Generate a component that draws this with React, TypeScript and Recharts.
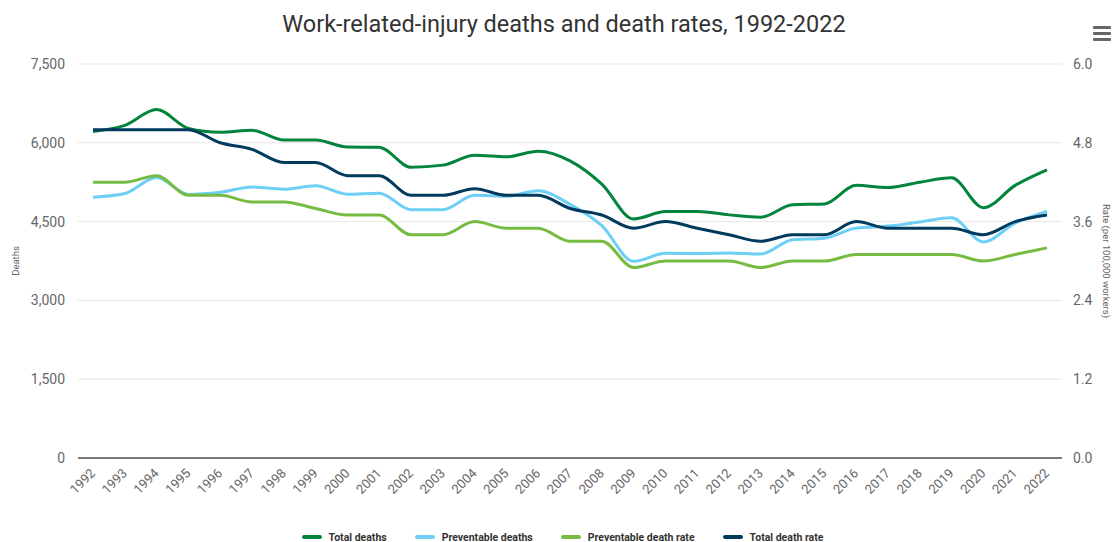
import React from 'react';
import { LineChart, Line, XAxis, YAxis, CartesianGrid } from 'recharts';

const years = [
  1992, 1993, 1994, 1995, 1996, 1997, 1998, 1999, 2000, 2001, 2002, 2003, 2004, 2005, 2006, 2007,
  2008, 2009, 2010, 2011, 2012, 2013, 2014, 2015, 2016, 2017, 2018, 2019, 2020, 2021, 2022,
];

const totalDeaths = [
  6217, 6331, 6632, 6275, 6202, 6238, 6055, 6054, 5920, 5915, 5534, 5575, 5764, 5734, 5840, 5657,
  5214, 4551, 4690, 4693, 4628, 4585, 4821, 4836, 5190, 5147, 5250, 5333, 4764, 5190, 5486,
];

const preventableDeaths = [
  4965, 5035, 5338, 5018, 5058, 5160, 5117, 5184, 5022, 5042, 4726, 4725, 5000, 4984, 5088, 4829,
  4423, 3744, 3896, 3891, 3903, 3883, 4154, 4185, 4376, 4414, 4493, 4572, 4113, 4472, 4695,
];

const preventableRate = [
  4.2, 4.2, 4.3, 4.0, 4.0, 3.9, 3.9, 3.8, 3.7, 3.7, 3.4, 3.4, 3.6, 3.5, 3.5, 3.3,
  3.3, 2.9, 3.0, 3.0, 3.0, 2.9, 3.0, 3.0, 3.1, 3.1, 3.1, 3.1, 3.0, 3.1, 3.2,
];

const totalRate = [
  5.0, 5.0, 5.0, 5.0, 4.8, 4.7, 4.5, 4.5, 4.3, 4.3, 4.0, 4.0, 4.1, 4.0, 4.0, 3.8,
  3.7, 3.5, 3.6, 3.5, 3.4, 3.3, 3.4, 3.4, 3.6, 3.5, 3.5, 3.5, 3.4, 3.6, 3.7,
];

const deathTicks = [0, 1500, 3000, 4500, 6000, 7500];
const rateTicks = [0, 1.2, 2.4, 3.6, 4.8, 6.0];

// legend order is also draw order
const series = [
  { key: 'totalDeaths', name: 'Total deaths', axis: 'deaths', color: '#02843d' },
  { key: 'preventableDeaths', name: 'Preventable deaths', axis: 'deaths', color: '#6dcff6' },
  { key: 'preventableRate', name: 'Preventable death rate', axis: 'rate', color: '#76bc43' },
  { key: 'totalRate', name: 'Total death rate', axis: 'rate', color: '#003a5d' },
];

const data = years.map((year, i) => ({
  year: String(year),
  totalDeaths: totalDeaths[i],
  preventableDeaths: preventableDeaths[i],
  preventableRate: preventableRate[i],
  totalRate: totalRate[i],
}));

const FONT = 'Roboto, "Noto Sans", sans-serif';

const YearTick = (props: any) => {
  const { x, y, payload } = props;
  return (
    <g transform={`translate(${x + 3},${y + 16})`}>
      <text x={0} y={0} textAnchor="end" transform="rotate(-45)" fontSize={13} fill="#666" fontFamily={FONT}>
        {payload.value}
      </text>
    </g>
  );
};

const leftTitle = (props: any) => {
  const vb = props.viewBox || {};
  const cy = vb.y != null ? vb.y + vb.height / 2 : 261;
  return (
    <text x={15} y={cy} transform={`rotate(-90, 15, ${cy})`} textAnchor="middle" dominantBaseline="central"
      fontSize={9.5} fill="#666" fontFamily={FONT}>
      Deaths
    </text>
  );
};

const rightTitle = (props: any) => {
  const vb = props.viewBox || {};
  const cy = vb.y != null ? vb.y + vb.height / 2 : 261;
  return (
    <text x={1106} y={cy} transform={`rotate(90, 1106, ${cy})`} textAnchor="middle" dominantBaseline="central"
      fontSize={9.5} fill="#666" fontFamily={FONT}>
      Rate (per 100,000 workers)
    </text>
  );
};

export default function App() {
  return (
    <div style={{ position: 'absolute', top: 0, left: 0, width: 1114, height: 542, background: '#fff', overflow: 'hidden' }}>
      <div
        style={{
          position: 'absolute',
          top: 8,
          left: 0,
          width: 1128,
          textAlign: 'center',
          fontFamily: FONT,
          fontSize: 23.5,
          color: '#333',
          lineHeight: '32px',
        }}
      >
        Work-related-injury deaths and death rates, 1992-2022
      </div>
      <div style={{ position: 'absolute', top: 26, left: 1093, width: 18 }}>
        {[0, 1, 2].map((i) => (
          <div key={i} style={{ height: 3, background: '#666', marginBottom: 3, borderRadius: 1 }} />
        ))}
      </div>
      <LineChart width={1114} height={542} data={data} margin={{ top: 64, right: 0, bottom: 0, left: 0 }}>
        <CartesianGrid horizontal vertical={false} stroke="#e6e6e6" yAxisId="deaths" />
        <XAxis
          dataKey="year"
          interval={0}
          padding={{ left: 15, right: 15 }}
          height={84}
          tickLine={false}
          tickSize={0}
          tickMargin={0}
          axisLine={{ stroke: '#7a7a7a', strokeWidth: 2 }}
          tick={<YearTick />}
        />
        <YAxis
          yAxisId="deaths"
          orientation="left"
          width={78}
          domain={[0, 7500]}
          ticks={deathTicks}
          interval={0}
          axisLine={false}
          tickLine={false}
          tickSize={0}
          tickMargin={13}
          tick={{ fontSize: 14, fill: '#666', fontFamily: FONT }}
          tickFormatter={(v: number) => v.toLocaleString('en-US')}
          label={{ content: leftTitle }}
        />
        <YAxis
          yAxisId="rate"
          orientation="right"
          width={52}
          domain={[0, 6]}
          ticks={rateTicks}
          interval={0}
          axisLine={false}
          tickLine={false}
          tickSize={0}
          tickMargin={11}
          tick={{ fontSize: 14, fill: '#666', fontFamily: FONT }}
          tickFormatter={(v: number) => v.toFixed(1)}
          label={{ content: rightTitle }}
        />
        {series.map((s) => (
          <Line key={s.key} yAxisId={s.axis} type="monotone" dataKey={s.key} name={s.name} stroke={s.color}
            strokeWidth={3} dot={false} activeDot={false} isAnimationActive={false} />
        ))}
      </LineChart>
      <div
        style={{
          position: 'absolute',
          top: 529,
          left: 5.5,
          width: 1114,
          height: 16,
          display: 'flex',
          justifyContent: 'center',
          alignItems: 'center',
          fontFamily: FONT,
          fontSize: 10.5,
          fontWeight: 700,
          color: '#333',
        }}
      >
        {series.map((s) => (
          <div key={s.key} style={{ display: 'flex', alignItems: 'center', margin: '0 14px' }}>
            <span style={{ width: 20, height: 4, borderRadius: 2, background: s.color, marginRight: 7 }} />
            <span>{s.name}</span>
          </div>
        ))}
      </div>
    </div>
  );
}
